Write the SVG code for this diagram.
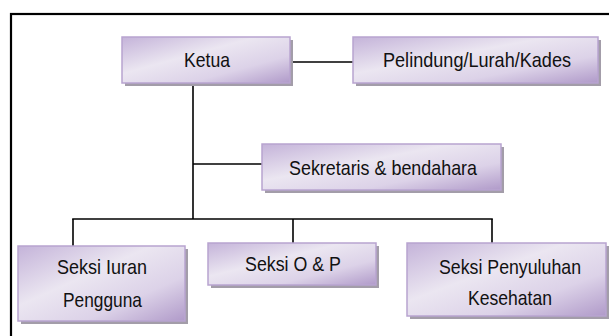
<svg xmlns="http://www.w3.org/2000/svg" width="609" height="336" viewBox="0 0 609 336">
<defs>
<linearGradient id="g" x1="0" y1="0" x2="1" y2="1">
<stop offset="0" stop-color="#c4b3d9"/>
<stop offset="0.4" stop-color="#ebe6f1"/>
<stop offset="0.7" stop-color="#dcd2e8"/>
<stop offset="1" stop-color="#b09ac9"/>
</linearGradient>
</defs>
<style>
.box{fill:url(#g);stroke:#b8a4d0;stroke-width:1.5}
.sh{fill:#a39da9}
.t{font-family:"Liberation Sans",Arial,sans-serif;font-size:21px;fill:#111;text-anchor:middle}
.c{stroke:#000;stroke-width:1.6;fill:none}
</style>
<rect width="609" height="336" fill="#fff"/>
<rect x="11" y="14" width="620" height="340" fill="none" stroke="#000" stroke-width="2.2"/>
<g id="connectors">
<line class="c" x1="290" y1="62" x2="353" y2="62"/>
<line class="c" x1="193" y1="83" x2="193" y2="219"/>
<line class="c" x1="193" y1="164" x2="262" y2="164"/>
<line class="c" x1="72.2" y1="219" x2="492.8" y2="219"/>
<line class="c" x1="73" y1="219" x2="73" y2="246"/>
<line class="c" x1="293" y1="219" x2="293" y2="243"/>
<line class="c" x1="492" y1="219" x2="492" y2="243"/>
</g>
<g id="ketua">
<rect class="sh" x="125" y="40" width="168" height="46"/>
<rect class="box" x="122" y="37" width="168" height="46"/>
<text class="t" x="207" y="67" textLength="46" lengthAdjust="spacingAndGlyphs">Ketua</text>
</g>
<g id="pelindung">
<rect class="sh" x="356" y="40" width="245" height="46"/>
<rect class="box" x="353" y="37" width="245" height="46"/>
<text class="t" x="477" y="67" textLength="188" lengthAdjust="spacingAndGlyphs">Pelindung/Lurah/Kades</text>
</g>
<g id="sekretaris">
<rect class="sh" x="265" y="147" width="239" height="46"/>
<rect class="box" x="262" y="144" width="239" height="46"/>
<text class="t" x="383" y="175" textLength="188" lengthAdjust="spacingAndGlyphs">Sekretaris &amp; bendahara</text>
</g>
<g id="iuran">
<rect class="sh" x="21" y="249" width="167" height="75"/>
<rect class="box" x="18" y="246" width="167" height="75"/>
<text class="t" x="102" y="274" textLength="90" lengthAdjust="spacingAndGlyphs">Seksi Iuran</text>
<text class="t" x="102.5" y="307" textLength="79" lengthAdjust="spacingAndGlyphs">Pengguna</text>
</g>
<g id="op">
<rect class="sh" x="211" y="246" width="168" height="42"/>
<rect class="box" x="208" y="243" width="168" height="42"/>
<text class="t" x="293" y="271" textLength="96" lengthAdjust="spacingAndGlyphs">Seksi O &amp; P</text>
</g>
<g id="penyuluhan">
<rect class="sh" x="410" y="246" width="199" height="73"/>
<rect class="box" x="407" y="243" width="199" height="73"/>
<text class="t" x="510" y="274" textLength="142" lengthAdjust="spacingAndGlyphs">Seksi Penyuluhan</text>
<text class="t" x="510" y="305" textLength="84" lengthAdjust="spacingAndGlyphs">Kesehatan</text>
</g>
</svg>
